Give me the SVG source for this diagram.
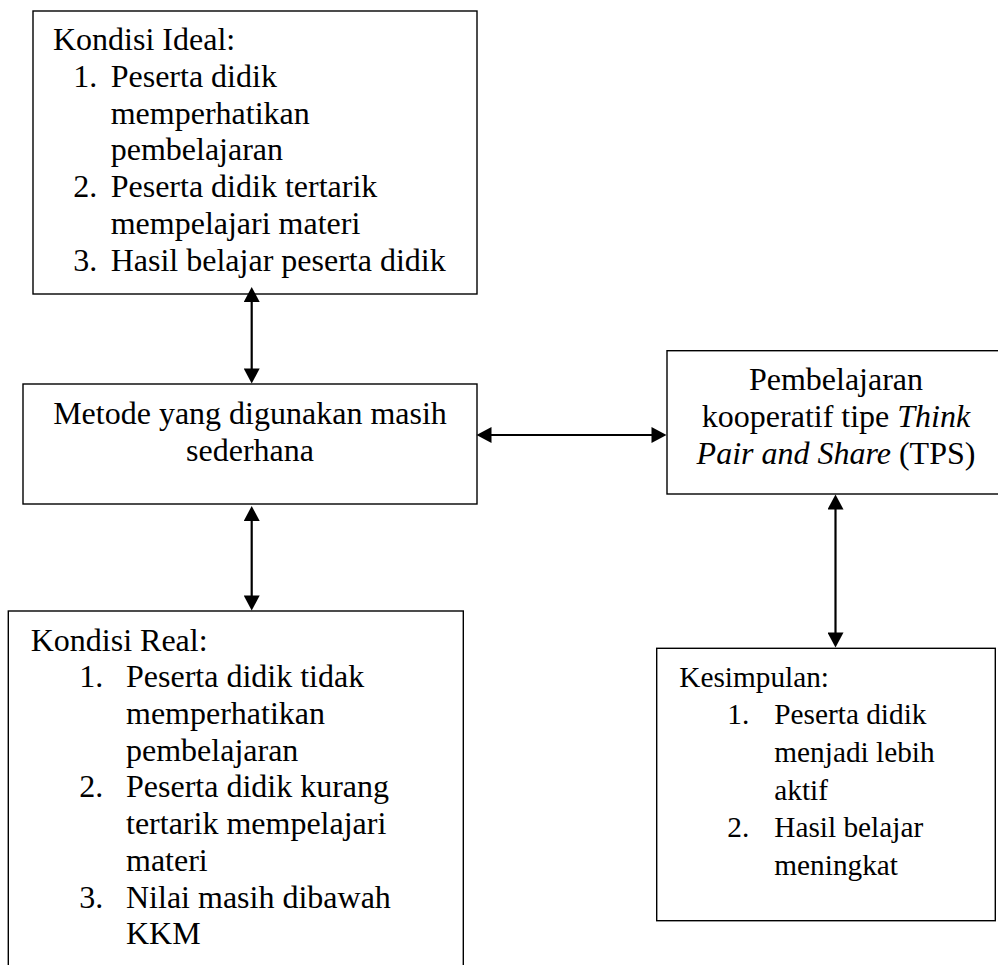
<svg xmlns="http://www.w3.org/2000/svg" width="998" height="965" viewBox="0 0 998 965">
<style>
  .box { fill: #ffffff; stroke: #000000; stroke-width: 1.4; }
  .t { font-family: "Liberation Serif", "Times New Roman", serif; font-size: 32px; fill: #000000; }
  .s { font-family: "Liberation Serif", "Times New Roman", serif; font-size: 29.3px; fill: #000000; }
  .c { text-anchor: middle; }
  .conn { stroke: #000000; stroke-width: 2.2; fill: none; marker-start: url(#ah); marker-end: url(#ah); }
</style>
<defs>
  <marker id="ah" markerUnits="userSpaceOnUse" markerWidth="16" markerHeight="16" viewBox="0 0 15 16" refX="5" refY="8" orient="auto-start-reverse">
    <path d="M0,0 L15,8 L0,16 z" fill="#000000"/>
  </marker>
</defs>
<rect width="998" height="965" fill="#ffffff"/>

<g id="kondisi-ideal">
  <rect class="box" x="33" y="11" width="444" height="283"/>
  <text class="t" x="53" y="50.3">Kondisi Ideal:</text>
  <text class="t" x="73.3" y="87">1.</text>
  <text class="t" x="110.7" y="87">Peserta didik</text>
  <text class="t" x="110.7" y="123.7">memperhatikan</text>
  <text class="t" x="110.7" y="160.4">pembelajaran</text>
  <text class="t" x="73.3" y="197.1">2.</text>
  <text class="t" x="110.7" y="197.1">Peserta didik tertarik</text>
  <text class="t" x="110.7" y="233.8">mempelajari materi</text>
  <text class="t" x="73.3" y="270.5">3.</text>
  <text class="t" x="110.7" y="270.5">Hasil belajar peserta didik</text>
</g>

<g id="metode">
  <rect class="box" x="23" y="384" width="454" height="120"/>
  <text class="t c" x="250" y="424">Metode yang digunakan masih</text>
  <text class="t c" x="250" y="461">sederhana</text>
</g>

<g id="kondisi-real">
  <rect class="box" x="8.3" y="611" width="455" height="400"/>
  <text class="t" x="30.7" y="650.7">Kondisi Real:</text>
  <text class="t" x="79.3" y="687.3">1.</text>
  <text class="t" x="126" y="687.3">Peserta didik tidak</text>
  <text class="t" x="126" y="724">memperhatikan</text>
  <text class="t" x="126" y="760.7">pembelajaran</text>
  <text class="t" x="79.3" y="797.4">2.</text>
  <text class="t" x="126" y="797.4">Peserta didik kurang</text>
  <text class="t" x="126" y="834.1">tertarik mempelajari</text>
  <text class="t" x="126" y="870.8">materi</text>
  <text class="t" x="79.3" y="907.5">3.</text>
  <text class="t" x="126" y="907.5">Nilai masih dibawah</text>
  <text class="t" x="126" y="944.2">KKM</text>
</g>

<g id="tps">
  <rect class="box" x="667" y="350.7" width="345" height="143.3"/>
  <text class="t c" x="836" y="389.5">Pembelajaran</text>
  <text class="t c" x="836" y="426.5">kooperatif tipe <tspan font-style="italic">Think</tspan></text>
  <text class="t c" x="836" y="463.5"><tspan font-style="italic">Pair and Share</tspan> (TPS)</text>
</g>

<g id="kesimpulan">
  <rect class="box" x="656.7" y="648.3" width="338.6" height="272.4"/>
  <text class="s" x="679.3" y="686.7">Kesimpulan:</text>
  <text class="s" x="727.3" y="724.3">1.</text>
  <text class="s" x="774.3" y="724.3">Peserta didik</text>
  <text class="s" x="774.3" y="761.9">menjadi lebih</text>
  <text class="s" x="774.3" y="799.5">aktif</text>
  <text class="s" x="727.3" y="837.1">2.</text>
  <text class="s" x="774.3" y="837.1">Hasil belajar</text>
  <text class="s" x="774.3" y="874.7">meningkat</text>
</g>

<g id="connectors">
  <line class="conn" x1="251.7" y1="297" x2="251.7" y2="373.5"/>
  <line class="conn" x1="251.7" y1="516" x2="251.7" y2="600.5"/>
  <line class="conn" x1="486.5" y1="435" x2="656.5" y2="435"/>
  <line class="conn" x1="835.5" y1="504.5" x2="835.5" y2="637.5"/>
</g>
</svg>
